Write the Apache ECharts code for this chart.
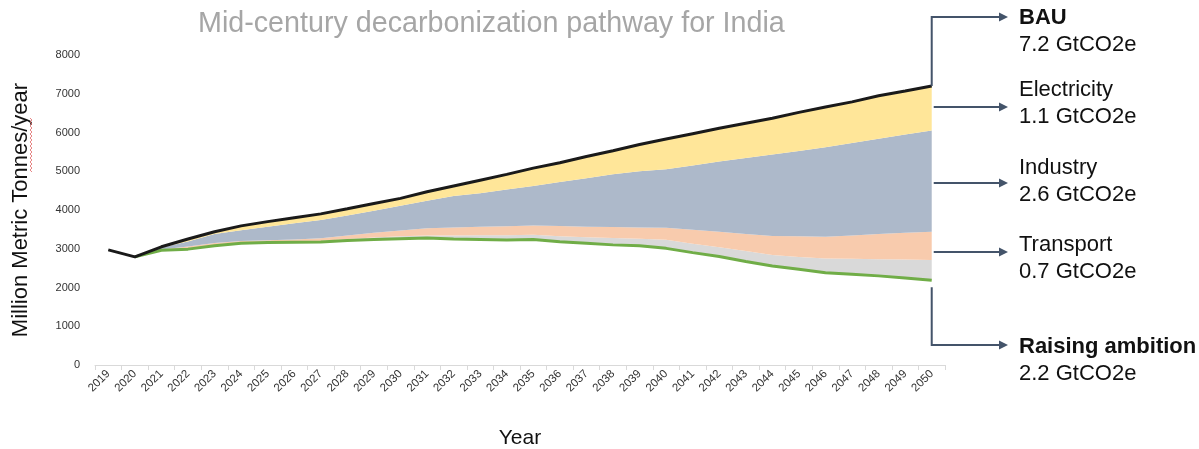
<!DOCTYPE html>
<html>
<head>
<meta charset="utf-8">
<script src="https://cdn.jsdelivr.net/npm/echarts@6/dist/echarts.min.js"></script>
<style>
html,body{margin:0;padding:0;background:#fff;}
#c{width:1199px;height:449px;}
</style>
</head>
<body>
<div id="c"></div>
<script>
const years = ['2019','2020','2021','2022','2023','2024','2025','2026','2027','2028','2029','2030','2031','2032','2033','2034','2035','2036','2037','2038','2039','2040','2041','2042','2043','2044','2045','2046','2047','2048','2049','2050'];
const yTicks = [0,1000,2000,3000,4000,5000,6000,7000,8000];
// Raising ambition pathway (green line)
const ambition = [2970,2790,2960,2990,3080,3140,3160,3170,3175,3210,3240,3260,3280,3250,3240,3225,3240,3180,3140,3100,3080,3010,2900,2800,2670,2555,2470,2380,2340,2300,2245,2190];
// Reductions by sector (band thickness), stacked on top of the ambition pathway
const other = [0,0,0,10,20,20,20,20,25,40,50,60,60,90,110,125,120,140,160,180,180,220,230,240,270,285,320,370,400,430,475,520];
const transport = [0,0,20,60,50,40,40,50,70,90,120,150,190,210,220,230,240,270,270,280,290,310,360,400,440,490,530,560,600,650,690,730];
const industry = [0,0,50,130,230,280,350,420,470,520,570,640,710,810,860,950,1020,1130,1250,1360,1450,1510,1660,1810,1960,2100,2200,2310,2390,2460,2540,2610];
const electricity = [0,0,20,60,60,110,130,140,160,170,190,190,230,260,340,390,460,500,560,610,690,780,820,860,900,940,1000,1040,1060,1110,1120,1150];
// BAU = ambition + all reductions
const bau = ambition.map((v,i)=>v+other[i]+transport[i]+industry[i]+electricity[i]);
const ambitionLine = ambition.map((v,i)=> i===0 ? null : v);

const annotations = [
  {title:'BAU', value:'7.2 GtCO2e', bold:true},
  {title:'Electricity', value:'1.1 GtCO2e', bold:false},
  {title:'Industry', value:'2.6 GtCO2e', bold:false},
  {title:'Transport', value:'0.7 GtCO2e', bold:false},
  {title:'Raising ambition', value:'2.2 GtCO2e', bold:true}
];

const FONT = '"Liberation Sans", Arial, sans-serif';
const chart = echarts.init(document.getElementById('c'), null, {renderer:'canvas'});

function band(name, data, color){
  return {name, type:'line', stack:'s', data, symbol:'none', silent:true,
    lineStyle:{width:0, opacity:0}, areaStyle:{color, opacity:1}, z:2};
}

chart.setOption({
  animation:false,
  backgroundColor:'#ffffff',
  title:{text:'Mid-century decarbonization pathway for India', left:193, top:5,
    textStyle:{color:'#a6a6a6', fontFamily:FONT, fontSize:28.7, fontWeight:'normal'}},
  grid:{left:95, right:254, top:55, bottom:84, containLabel:false, outerBoundsMode:'none'},
  xAxis:{type:'category', data:years, boundaryGap:true,
    name:'Year', nameLocation:'middle', nameGap:63,
    nameTextStyle:{color:'#111', fontFamily:FONT, fontSize:21},
    axisLine:{lineStyle:{color:'#d9d9d9', width:1}},
    axisTick:{show:true, length:5, lineStyle:{color:'#d9d9d9'}},
    axisLabel:{rotate:45, fontFamily:FONT, fontSize:11.5, color:'#333', margin:7},
    splitLine:{show:false}},
  yAxis:{type:'value', min:yTicks[0], max:yTicks[yTicks.length-1], interval:1000,
    name:'Million Metric Tonnes/year', nameLocation:'middle', nameGap:63,
    nameTextStyle:{color:'#111', fontFamily:FONT, fontSize:22},
    axisLine:{show:false}, axisTick:{show:false}, splitLine:{show:false},
    axisLabel:{fontFamily:FONT, fontSize:11, color:'#333', margin:15, formatter:(v)=>String(v)}},
  series:[
    {name:'base', type:'line', stack:'s', data:ambition, symbol:'none', silent:true,
      lineStyle:{width:0, opacity:0}, z:1},
    band('Other', other, '#d9d9d9'),
    band('Transport', transport, '#f8cbad'),
    band('Industry', industry, '#adb9ca'),
    band('Electricity', electricity, '#ffe699'),
    {name:'Raising ambition', type:'line', data:ambitionLine, symbol:'none',
      lineStyle:{color:'#70ad47', width:3}, z:5},
    {name:'BAU', type:'line', data:bau, symbol:'none',
      lineStyle:{color:'#1a1a1a', width:3}, z:6}
  ]
});

// Right-side annotation arrows and texts
const last = years.length-1;
const pBau = chart.convertToPixel({gridIndex:0}, [last, bau[last]]);
const pAmb = chart.convertToPixel({gridIndex:0}, [last, ambition[last]]);
const xv = pBau[0];
const xEnd = 1008;
const ac = '#44546a';
function arrowHead(x,y){
  return {type:'polygon', shape:{points:[[x,y],[x-9,y-4.5],[x-9,y+4.5]]}, style:{fill:ac}, z:10};
}
const g = [];
const arrowY = [17,107,183,252,345];
// BAU bracket
g.push({type:'polyline', shape:{points:[[xv,pBau[1]],[xv,arrowY[0]],[xEnd-8,arrowY[0]]]}, style:{stroke:ac, lineWidth:2, fill:null}, z:10});
g.push(arrowHead(xEnd,arrowY[0]));
// Straight arrows
for (let k=1;k<=3;k++){
  g.push({type:'line', shape:{x1:xv+2, y1:arrowY[k], x2:xEnd-8, y2:arrowY[k]}, style:{stroke:ac, lineWidth:2}, z:10});
  g.push(arrowHead(xEnd,arrowY[k]));
}
// Raising ambition bracket
g.push({type:'polyline', shape:{points:[[xv,pAmb[1]+7],[xv,arrowY[4]],[xEnd-8,arrowY[4]]]}, style:{stroke:ac, lineWidth:2, fill:null}, z:10});
g.push(arrowHead(xEnd,arrowY[4]));

const titleY = [18,90,168,245,347];
annotations.forEach((a,k)=>{
  g.push({type:'text', left:1019, top:titleY[k]-11, style:{text:a.title, fill:'#111', font:(a.bold?'bold ':'')+'22px '+FONT}, z:10});
  g.push({type:'text', left:1019, top:titleY[k]+16, style:{text:a.value, fill:'#111', font:'22px '+FONT}, z:10});
});
// spell-check squiggle under "Tonnes"
const sq = [];
for (let y=118, i=0; y<=172; y+=2, i++) sq.push([i%2?32:30, y]);
g.push({type:'polyline', shape:{points:sq}, style:{stroke:'#e06666', lineWidth:0.8, fill:null}, z:10});

chart.setOption({graphic:g});
</script>
</body>
</html>
